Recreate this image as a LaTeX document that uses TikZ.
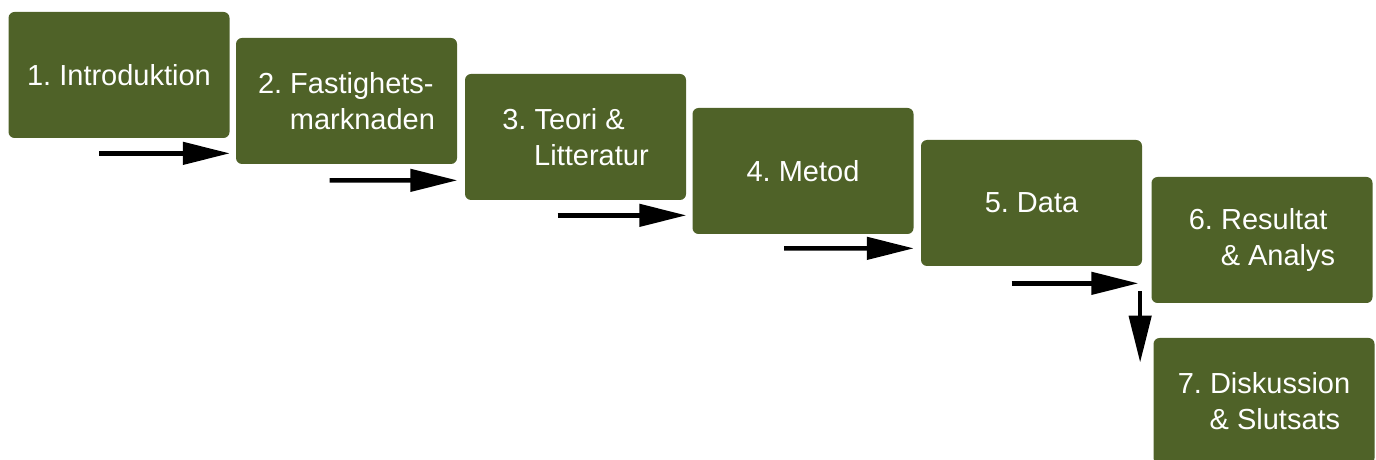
\documentclass[tikz,border=0pt]{standalone}
\usepackage{fontspec}
\setmainfont{Liberation Sans}
\usetikzlibrary{arrows.meta}
\definecolor{stepgreen}{HTML}{4F6228}
\frenchspacing

\begin{document}
\begin{tikzpicture}[
        stage/.style={rectangle, rounded corners=0.12cm, fill=stepgreen, text=white,
            minimum width=4.42cm, minimum height=2.52cm, inner sep=0pt, align=left,
            font=\fontsize{16.5}{20.8}\selectfont},
        flow/.style={-{Triangle[length=0.94cm,width=0.44cm]}, line width=0.09cm}
    ]
        \useasboundingbox (0,0) rectangle (27.52,9.18);

        \node[stage] (intro) at (2.38,7.68) {1. Introduktion};
        \node[stage] (market) at (6.93,7.16) {2. Fastighets-\\\hspace*{1.1em}marknaden};
        \node[stage] (theory) at (11.51,6.44) {3. Teori \&\\\hspace*{1.1em}Litteratur};
        \node[stage] (method) at (16.06,5.76) {4. Metod};
        \node[stage] (data) at (20.63,5.12) {5. Data};
        \node[stage] (result) at (25.24,4.38) {6. Resultat\\\hspace*{1.1em}\& Analys};
        \node[stage] (discuss) at (25.28,1.16) {7. Diskussion\\\hspace*{1.1em}\& Slutsats};

        % arrows under the boxes
        \coordinate (a1s) at ([shift={(1.82,-0.3)}]intro.south west);
        \coordinate (a1e) at ([yshift=-0.3cm]intro.south east);
        \coordinate (a2s) at ([shift={(1.88,-0.32)}]market.south west);
        \coordinate (a2e) at ([yshift=-0.32cm]market.south east);
        \coordinate (a3s) at ([shift={(1.86,-0.3)}]theory.south west);
        \coordinate (a3e) at ([yshift=-0.3cm]theory.south east);
        \coordinate (a4s) at ([shift={(1.84,-0.28)}]method.south west);
        \coordinate (a4e) at ([yshift=-0.28cm]method.south east);
        \coordinate (a5s) at ([shift={(1.82,-0.34)}]data.south west);
        \coordinate (a5e) at ([shift={(-0.08,-0.34)}]data.south east);
        \coordinate (a6s) at ([shift={(-0.22,0.24)}]result.south west);
        \coordinate (a6e) at ([yshift=-0.5cm]discuss.north west);

        \draw[flow] (a1s) -- (a1e);
        \draw[flow] (a2s) -- (a2e);
        \draw[flow] (a3s) -- (a3e);
        \draw[flow] (a4s) -- (a4e);
        \draw[flow] (a5s) -- (a5e);
        \draw[flow] (a6s) -- (a6s |- a6e);
    \end{tikzpicture}
\end{document}
